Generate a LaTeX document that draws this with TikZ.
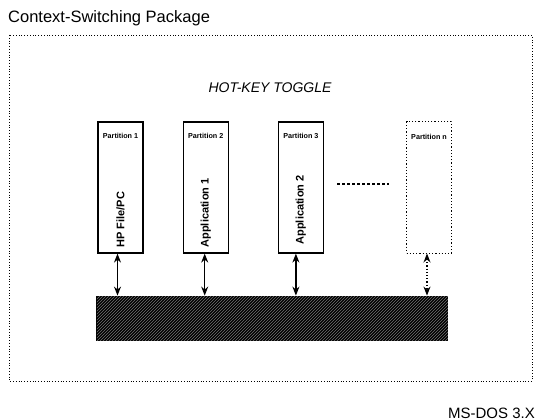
\documentclass[tikz,border=0pt]{standalone}
\usepackage{fontspec}
\setmainfont{Liberation Sans}
\setsansfont{Liberation Sans}
\usetikzlibrary{arrows.meta, positioning, patterns}

\begin{document}
\begin{tikzpicture}[
    x=1pt, y=-1pt,
    >={Stealth[length=9pt, width=7pt]},
    partbox/.style={draw, line width=1.2pt, minimum width=45pt, minimum height=131pt, inner sep=0pt},
    openbox/.style={partbox, dotted, line width=1pt},
    parttitle/.style={font=\fontsize{7.2}{8}\selectfont\bfseries, inner sep=0pt},
    apptext/.style={font=\fontsize{11}{13}\selectfont\bfseries, rotate=90, anchor=west, inner sep=0pt},
    busbar/.style={draw, line width=1pt, fill=black, minimum width=351pt, minimum height=44pt,
                   inner sep=0pt, postaction={pattern=north east lines, pattern color=black!55}},
    link/.style={<->, line width=1.2pt},
]
\useasboundingbox (0,0) rectangle (539,420);

% === Frame and headings ===
\node[font=\fontsize{16.5}{18}\selectfont, anchor=base west, inner sep=0pt] (title) at (8,23) {Context-Switching Package};
\draw[dotted, line width=0.8pt] (9,35) rectangle (532,381);
\node[font=\fontsize{14}{16}\selectfont\itshape] (hotkey) at (270,88) {HOT-KEY TOGGLE};
\node[font=\fontsize{15}{16}\selectfont, anchor=base east, inner sep=0pt] (dos) at (535,418) {MS-DOS 3.X};

% === Partitions ===
\node[partbox] (p1) at (120.5,187.5) {};
\node[partbox, right=39pt of p1] (p2) {};
\node[partbox, right=49pt of p2] (p3) {};
\node[openbox, right=82pt of p3] (pn) {};

\node[parttitle] (t1) at ([yshift=-15pt]p1.north) {Partition 1};
\node[parttitle] (t2) at ([yshift=-15pt]p2.north) {Partition 2};
\node[parttitle] (t3) at ([yshift=-15pt]p3.north) {Partition 3};
\node[parttitle] (tn) at ([yshift=-15pt]pn.north) {Partition n};

\node[apptext] (a1) at ([yshift=6pt]p1.south) {HP File/PC};
\node[apptext] (a2) at ([yshift=6pt]p2.south) {Application 1};
\node[apptext] (a3) at ([yshift=9pt]p3.south) {Application 2};

% more partitions
\draw[line width=2pt, dash pattern=on 3pt off 2pt] ([xshift=13pt,yshift=4pt]p3.east) -- ([xshift=-17pt,yshift=4pt]pn.west);

% === Switcher bar ===
\node[busbar, below=42pt of p1.south west, anchor=north west, xshift=-1pt] (bar) {};

\draw[link] ([xshift=-3pt]p1.south) -- ([xshift=-3pt]p1.south |- bar.north);
\draw[link] ([xshift=-1pt]p2.south) -- ([xshift=-1pt]p2.south |- bar.north);
\draw[link] ([xshift=-5pt]p3.south) -- ([xshift=-5pt]p3.south |- bar.north);
\draw[link, dotted] ([xshift=-2pt]pn.south) -- ([xshift=-2pt]pn.south |- bar.north);

\end{tikzpicture}
\end{document}
